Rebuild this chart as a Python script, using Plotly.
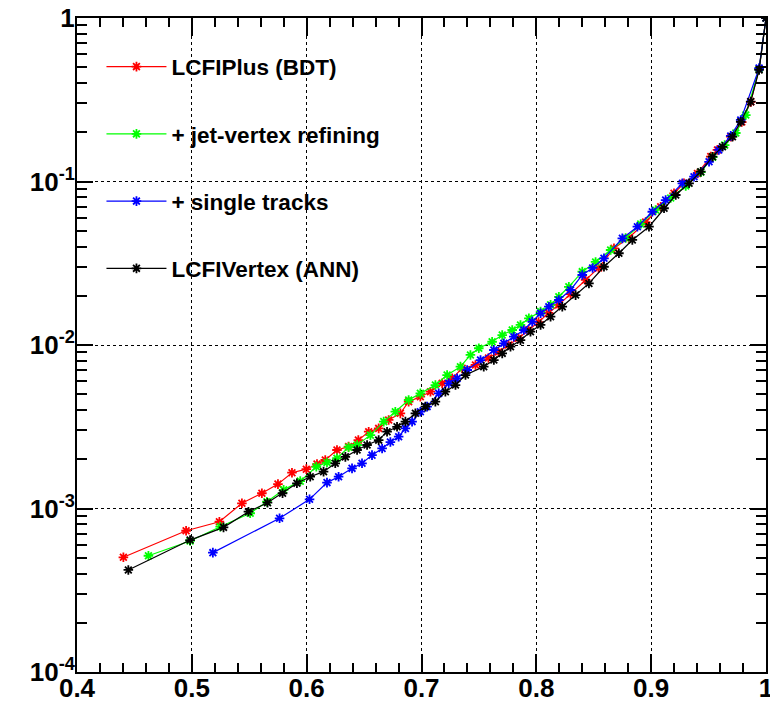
import plotly.graph_objects as go

# ---------------- data ----------------
names = ["LCFIPlus (BDT)", "+ jet-vertex refining", "+ single tracks", "LCFIVertex (ANN)"]
colors = ["#ff0000", "#00ff00", "#0000ff", "#000000"]

red_x = [0.4404, 0.495, 0.524, 0.5436, 0.561, 0.575, 0.5872, 0.5997, 0.609, 0.6162, 0.6264, 0.6365,
         0.645, 0.654, 0.6627, 0.6714, 0.6816, 0.6888, 0.699, 0.7078, 0.718, 0.7267, 0.7354, 0.747,
         0.7583, 0.767, 0.7758, 0.7845, 0.7932, 0.8019, 0.8106, 0.8194, 0.8298, 0.8429, 0.8542, 0.8676,
         0.8804, 0.8952, 0.9083, 0.9199, 0.9286, 0.9403, 0.9519, 0.9577, 0.9693, 0.9789, 0.9867, 0.994, 1.0]
red_y = [5.03e-4, 7.31e-4, 8.30e-4, 1.076e-3, 1.24e-3, 1.41e-3, 1.656e-3, 1.74e-3, 1.87e-3, 1.98e-3,
         2.28e-3, 2.39e-3, 2.62e-3, 2.95e-3, 3.09e-3, 3.48e-3, 3.82e-3, 4.50e-3, 4.83e-3, 5.18e-3,
         5.83e-3, 6.25e-3, 7.2e-3, 7.55e-3, 8.33e-3, 9.06e-3, 1.0e-2, 1.10e-2, 1.235e-2, 1.38e-2,
         1.57e-2, 1.76e-2, 2.05e-2, 2.50e-2, 2.96e-2, 3.90e-2, 4.51e-2, 5.65e-2, 7.01e-2, 8.47e-2,
         9.75e-2, 0.112, 0.142, 0.156, 0.188, 0.231, 0.307, 0.487, 1.0]

green_x = [0.4622, 0.4985, 0.5247, 0.5508, 0.5654, 0.5799, 0.5944, 0.6084, 0.6177, 0.6264, 0.6365,
           0.6439, 0.6555, 0.6671, 0.6772, 0.6888, 0.699, 0.7121, 0.7223, 0.7339, 0.7426, 0.7499,
           0.7615, 0.7703, 0.779, 0.7862, 0.7935, 0.8037, 0.8124, 0.8196, 0.8283, 0.84, 0.8516,
           0.8647, 0.8778, 0.8909, 0.9039, 0.917, 0.9301, 0.9432, 0.9536, 0.964, 0.9737, 0.9824,
           0.994, 1.0]
green_y = [5.14e-4, 6.33e-4, 7.74e-4, 9.35e-4, 1.10e-3, 1.30e-3, 1.47e-3, 1.80e-3, 1.91e-3, 2.03e-3,
           2.37e-3, 2.445e-3, 2.81e-3, 3.40e-3, 3.91e-3, 4.61e-3, 5.06e-3, 5.69e-3, 6.55e-3, 7.37e-3,
           8.69e-3, 9.55e-3, 1.047e-2, 1.15e-2, 1.235e-2, 1.326e-2, 1.456e-2, 1.60e-2, 1.76e-2,
           1.97e-2, 2.27e-2, 2.81e-2, 3.22e-2, 3.81e-2, 4.51e-2, 5.5e-2, 6.7e-2, 7.93e-2, 9.39e-2,
           0.114, 0.141, 0.167, 0.198, 0.255, 0.487, 1.0]

blue_x = [0.5183, 0.5764, 0.6025, 0.6177, 0.6278, 0.6395, 0.6482, 0.6569, 0.6657, 0.6729, 0.6801,
          0.686, 0.6918, 0.699, 0.7049, 0.715, 0.7237, 0.731, 0.7398, 0.7514, 0.763, 0.7717, 0.7804,
          0.7891, 0.7964, 0.8037, 0.8109, 0.8196, 0.8298, 0.84, 0.849, 0.8589, 0.8749, 0.888, 0.901,
          0.9126, 0.9272, 0.9373, 0.9504, 0.9589, 0.9693, 0.978, 0.994, 1.0]
blue_y = [5.37e-4, 8.71e-4, 1.138e-3, 1.44e-3, 1.565e-3, 1.76e-3, 1.89e-3, 2.12e-3, 2.33e-3, 2.55e-3,
          2.75e-3, 3.09e-3, 3.40e-3, 3.91e-3, 4.20e-3, 5.06e-3, 5.83e-3, 6.25e-3, 7.03e-3, 8.09e-3,
          9.32e-3, 1.024e-2, 1.124e-2, 1.235e-2, 1.389e-2, 1.563e-2, 1.715e-2, 1.885e-2, 2.17e-2,
          2.68e-2, 2.96e-2, 3.39e-2, 4.49e-2, 5.29e-2, 6.53e-2, 7.7e-2, 9.75e-2, 0.107, 0.132, 0.156,
          0.19, 0.238, 0.494, 1.0]

black_x = [0.4447, 0.4985, 0.5276, 0.5493, 0.5659, 0.579, 0.5915, 0.6031, 0.6147, 0.6249, 0.6337,
           0.6439, 0.6526, 0.6627, 0.670, 0.6787, 0.686, 0.6947, 0.7034, 0.7121, 0.7208, 0.7296,
           0.7383, 0.7542, 0.763, 0.7703, 0.7775, 0.7862, 0.7949, 0.8037, 0.8124, 0.8226, 0.8342,
           0.8458, 0.8589, 0.8719, 0.8836, 0.8981, 0.9112, 0.9214, 0.933, 0.9432, 0.9534, 0.9621,
           0.9708, 0.978, 0.9867, 0.994, 1.0]
black_y = [4.21e-4, 6.41e-4, 7.67e-4, 9.56e-4, 1.085e-3, 1.24e-3, 1.426e-3, 1.565e-3, 1.68e-3, 1.89e-3,
           2.07e-3, 2.28e-3, 2.445e-3, 2.62e-3, 2.95e-3, 3.16e-3, 3.40e-3, 3.82e-3, 4.20e-3, 4.50e-3,
           5.18e-3, 5.69e-3, 6.55e-3, 7.37e-3, 8.09e-3, 8.89e-3, 9.76e-3, 1.07e-2, 1.206e-2, 1.326e-2,
           1.49e-2, 1.715e-2, 2.02e-2, 2.38e-2, 3.01e-2, 3.64e-2, 4.39e-2, 5.29e-2, 6.86e-2, 8.27e-2,
           9.75e-2, 0.1148, 0.1418, 0.163, 0.188, 0.232, 0.308, 0.481, 1.0]

x_ticks = [0.4, 0.5, 0.6, 0.7, 0.8, 0.9, 1.0]
x_ticktext = ["0.4", "0.5", "0.6", "0.7", "0.8", "0.9", "1"]
y_ticks = [1e-4, 1e-3, 1e-2, 1e-1, 1]
y_ticktext = ["10<sup>-4</sup>", "10<sup>-3</sup>", "10<sup>-2</sup>", "10<sup>-1</sup>", "1"]
y_minor = [m * 10.0 ** e for e in (-4, -3, -2, -1) for m in range(2, 10)]

series = [(red_x, red_y), (green_x, green_y), (blue_x, blue_y), (black_x, black_y)]

# ---------------- figure ----------------
FONT = "Liberation Sans, Arial, sans-serif"
fig = go.Figure()
for i, ((xs, ys), nm, col) in enumerate(zip(series, names, colors)):
    fig.add_trace(go.Scatter(
        x=xs, y=ys, name=nm, mode="lines+markers", legendgroup=f"g{i}",
        line=dict(color=col, width=1.2),
        marker=dict(symbol="asterisk-open", size=8, color=col, line=dict(color=col, width=1.8)),
    ))

# white legend box (covers the grid behind the legend)
fig.add_shape(type="rect", xref="paper", yref="paper", x0=0.0, x1=0.502, y0=0.557, y1=1.0,
              fillcolor="white", line=dict(width=0), layer="between")

tickfont = dict(family=FONT, size=26, color="black", weight="bold")

fig.update_layout(
    width=770, height=700,
    margin=dict(l=69, r=12, t=10, b=36, autoexpand=False),
    paper_bgcolor="white", plot_bgcolor="white",
    font=dict(family=FONT, color="black"),
    xaxis=dict(
        range=[0.4, 1.0], tickmode="array", tickvals=x_ticks, ticktext=x_ticktext,
        showline=True, linecolor="black", linewidth=2, mirror=True,
        ticks="inside", ticklen=18, tickcolor="black", tickwidth=2,
        showgrid=True, gridcolor="black", griddash="dot", gridwidth=1.2, zeroline=False,
        tickfont=tickfont, automargin=False, ticklabelstandoff=-8, ticklabeloverflow="allow",
        minor=dict(dtick=0.02, tick0=0.4, ticks="inside", ticklen=9, tickcolor="black",
                   tickwidth=2, showgrid=False),
    ),
    yaxis=dict(
        type="log", range=[-4, 0], tickmode="array", tickvals=y_ticks, ticktext=y_ticktext,
        showline=True, linecolor="black", linewidth=2, mirror=True,
        ticks="inside", ticklen=16, tickcolor="black", tickwidth=2,
        showgrid=True, gridcolor="black", griddash="dot", gridwidth=1.2, zeroline=False,
        tickfont=tickfont, automargin=False, ticklabelstandoff=-5, ticklabeloverflow="allow",
        minor=dict(tickmode="array", tickvals=y_minor, ticks="inside", ticklen=10,
                   tickcolor="black", tickwidth=2, showgrid=False),
    ),
    # mirrored tick marks on the top and right frame
    xaxis2=dict(
        overlaying="x", matches="x", side="top", range=[0.4, 1.0], tickmode="array",
        tickvals=x_ticks, showticklabels=False, showgrid=False, zeroline=False,
        ticks="inside", ticklen=18, tickcolor="black", tickwidth=2, automargin=False,
        minor=dict(dtick=0.02, tick0=0.4, ticks="inside", ticklen=9, tickcolor="black",
                   tickwidth=2, showgrid=False),
    ),
    yaxis2=dict(
        overlaying="y", side="right", type="log", range=[-4, 0], tickmode="array",
        tickvals=y_ticks, showticklabels=False, showgrid=False, zeroline=False,
        ticks="inside", ticklen=16, tickcolor="black", tickwidth=2, automargin=False,
        minor=dict(tickmode="array", tickvals=y_minor, ticks="inside", ticklen=10,
                   tickcolor="black", tickwidth=2, showgrid=False),
    ),
    legend=dict(
        x=0.0355, y=0.958, xanchor="left", yanchor="top",
        bgcolor="rgba(0,0,0,0)", borderwidth=0,
        font=dict(family=FONT, size=22.5, color="black", weight="bold"),
        tracegroupgap=35, traceorder="grouped", itemwidth=60,
    ),
)

# invisible helper trace so the mirrored axes are drawn
fig.add_trace(go.Scatter(x=[0.4], y=[1e-4], xaxis="x2", yaxis="y2", mode="markers",
                         marker=dict(opacity=0), showlegend=False, hoverinfo="skip"))

fig.write_html("out.html")
